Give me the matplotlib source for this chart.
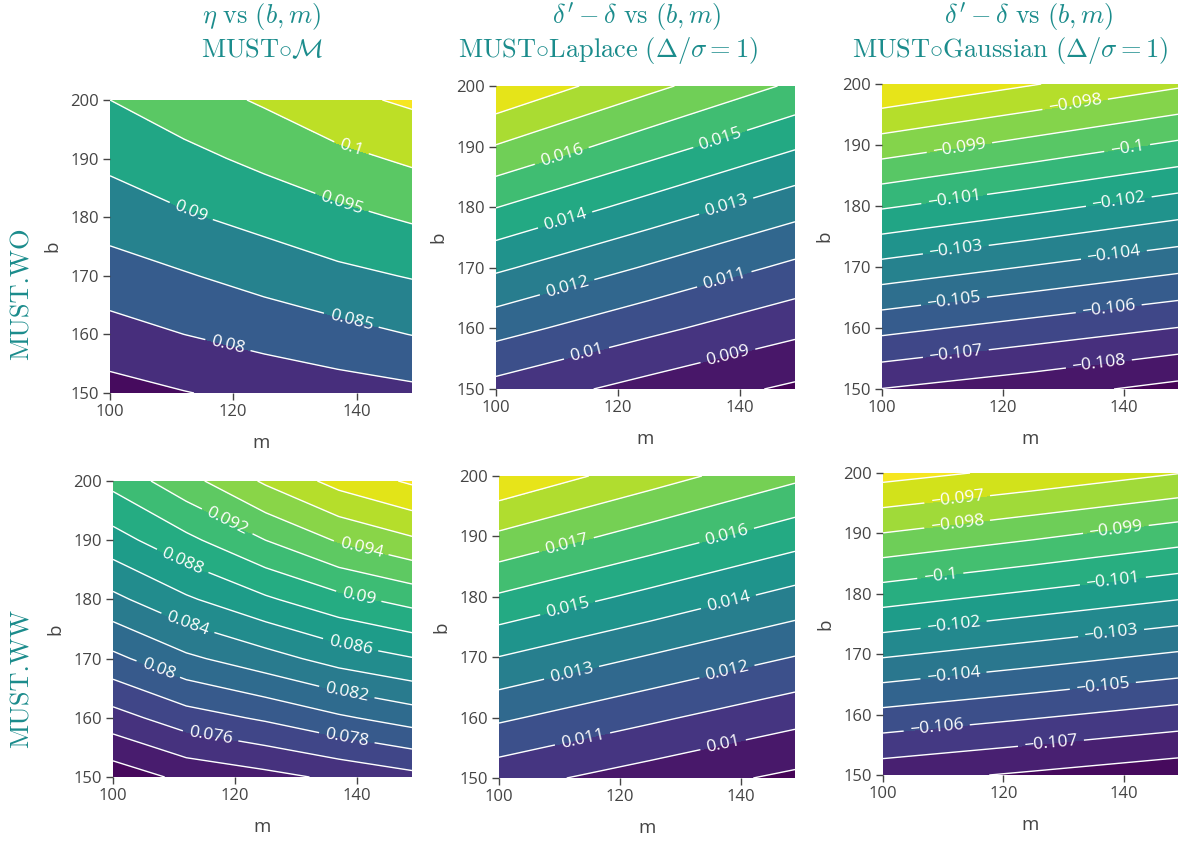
import numpy as np
import matplotlib
matplotlib.use("Agg")
import matplotlib.pyplot as plt

M_FINE = [100, 112, 125, 137, 149]
M_COARSE = [100, 125, 149]
B_VALUES = [150, 160, 170, 180, 190, 200]

# eta, MUST.WO  (rows: b = 150..200, columns: M_FINE)
ETA_WO = [
    [0.0732, 0.0748, 0.0764, 0.0777, 0.0788],
    [0.0781, 0.0800, 0.0818, 0.0834, 0.0851],
    [0.0828, 0.0846, 0.0868, 0.0888, 0.0903],
    [0.0871, 0.0894, 0.0916, 0.0937, 0.0956],
    [0.0912, 0.0936, 0.0962, 0.0987, 0.1008],
    [0.0950, 0.0978, 0.1006, 0.1038, 0.1058],
]

# delta' - delta, MUST.WO, Laplace  (columns: M_COARSE)
LAP_WO = [
    [0.00964, 0.00864, 0.00783],
    [0.01137, 0.01024, 0.00926],
    [0.01316, 0.01190, 0.01077],
    [0.01502, 0.01363, 0.01239],
    [0.01694, 0.01544, 0.01409],
    [0.01890, 0.01725, 0.01583],
]

# delta' - delta, MUST.WO, Gaussian
GAU_WO = [
    [-0.10802, -0.10862, -0.10930],
    [-0.10571, -0.10639, -0.10702],
    [-0.10331, -0.10406, -0.10476],
    [-0.10088, -0.10170, -0.10249],
    [-0.09844, -0.09933, -0.10018],
    [-0.09605, -0.09695, -0.09784],
]

# eta, MUST.WW
ETA_WW = [
    [0.0708, 0.0725, 0.0734, 0.0744, 0.0754],
    [0.0752, 0.0771, 0.0783, 0.0797, 0.0809],
    [0.0795, 0.0816, 0.0832, 0.0848, 0.0859],
    [0.0835, 0.0857, 0.0877, 0.0894, 0.0907],
    [0.0872, 0.0895, 0.0920, 0.0942, 0.0957],
    [0.0906, 0.0933, 0.0963, 0.0987, 0.1003],
]

# delta' - delta, MUST.WW, Laplace
LAP_WW = [
    [0.01039, 0.00952, 0.00879],
    [0.01216, 0.01118, 0.01029],
    [0.01398, 0.01292, 0.01197],
    [0.01588, 0.01473, 0.01366],
    [0.01782, 0.01658, 0.01544],
    [0.01982, 0.01844, 0.01721],
]

# delta' - delta, MUST.WW, Gaussian
GAU_WW = [
    [-0.10764, -0.10815, -0.10864],
    [-0.10528, -0.10584, -0.10638],
    [-0.10286, -0.10349, -0.10410],
    [-0.10046, -0.10114, -0.10177],
    [-0.09802, -0.09875, -0.09948],
    [-0.09563, -0.09627, -0.09697],
]

TITLE_LINE1 = [r"$\eta\ \mathrm{vs}\ (b, m)$",
               r"$\delta' - \delta\ \mathrm{vs}\ (b, m)$",
               r"$\delta' - \delta\ \mathrm{vs}\ (b, m)$"]
TITLE_LINE2 = [r"$\mathrm{MUST}{\circ}\mathcal{M}$",
               r"$\mathrm{MUST}{\circ}\mathrm{Laplace}\ (\Delta/\sigma = 1)$",
               r"$\mathrm{MUST}{\circ}\mathrm{Gaussian}\ (\Delta/\sigma = 1)$"]
ROW_LABELS = ["MUST.WO", "MUST.WW"]

# panels: data, m grid, contour step
PANELS = [
    (ETA_WO, M_FINE, 0.005),
    (LAP_WO, M_COARSE, 0.001),
    (GAU_WO, M_COARSE, 0.001),
    (ETA_WW, M_FINE, 0.002),
    (LAP_WW, M_COARSE, 0.001),
    (GAU_WW, M_COARSE, 0.001),
]

# layout (pixels: left, top, right, bottom)
W, H = 1199, 846
RECTS = [
    (110, 100, 412, 393), (496, 86, 795, 389), (882, 84, 1178, 389),
    (113, 481, 412, 777), (499, 476, 795, 778), (883, 473, 1178, 775),
]

# where the contour labels sit (m, b)
LABEL_POS = [
    [(139.1, 191.6), (137.4, 181.7), (112.8, 180.0), (139.1, 162.2), (119.0, 157.6)],
    [(110.7, 188.7), (136.7, 191.4), (111.3, 178.0), (137.8, 179.9), (111.6, 167.0),
     (137.5, 167.8), (114.8, 156.0), (138.0, 155.5)],
    [(132.0, 196.5), (112.8, 189.7), (140.6, 189.4), (111.9, 181.5), (139.2, 180.7),
     (112.2, 173.0), (138.4, 171.9), (111.9, 164.5), (137.5, 163.4), (112.2, 156.0),
     (135.9, 154.1)],
    [(118.3, 192.3), (140.6, 188.4), (111.0, 185.6), (140.1, 179.7), (112.1, 175.5),
     (138.8, 171.6), (107.3, 167.9), (138.2, 163.7), (115.9, 156.4), (138.2, 155.9)],
    [(111.1, 188.9), (137.6, 190.5), (111.3, 178.4), (137.9, 179.5), (111.9, 167.9),
     (137.6, 168.2), (113.8, 156.6), (137.1, 155.5)],
    [(112.3, 195.8), (112.3, 191.6), (138.7, 190.5), (109.5, 183.1), (138.2, 182.0),
     (111.7, 175.1), (137.9, 173.4), (111.7, 166.5), (136.5, 164.9), (108.9, 158.0),
     (127.9, 155.2)],
]

TEAL = "#1b8c8c"
GREY = "#444444"

plt.rcParams["font.family"] = ["Open Sans", "DejaVu Sans"]
plt.rcParams["mathtext.fontset"] = "cm"


def fmt(v):
    return f"{round(v, 6):g}".replace("-", "\u2212")


def rect_to_fig(r):
    x0, y0, x1, y1 = r
    return [x0 / W, 1 - y1 / H, (x1 - x0) / W, (y1 - y0) / H]


fig = plt.figure(figsize=(W / 100, H / 100), dpi=100)

for i, (data, m_vals, step) in enumerate(PANELS):
    ax = fig.add_axes(rect_to_fig(RECTS[i]))
    z = np.array(data)
    mm, bb = np.meshgrid(m_vals, B_VALUES)
    zmin, zmax = z.min(), z.max()

    k0 = int(np.ceil(zmin / step - 1e-9))
    k1 = int(np.floor(zmax / step + 1e-9))
    inner = [round(k * step, 6) for k in range(k0, k1 + 1)]
    inner = [v for v in inner if zmin < v < zmax]
    bounds = [zmin] + inner + [zmax]

    ax.contourf(mm, bb, z, levels=bounds, cmap="viridis",
                vmin=zmin, vmax=zmax)
    cs = ax.contour(mm, bb, z, levels=inner, colors="white",
                    linewidths=1.0, linestyles="solid")
    ax.clabel(cs, inline=True, inline_spacing=6, fmt=fmt, fontsize=12.5,
              colors="white", manual=LABEL_POS[i])

    ax.set_xlim(100, 149)
    ax.set_ylim(150, 200)
    ax.set_xticks([100, 120, 140])
    ax.set_yticks([150, 160, 170, 180, 190, 200])
    for s in ax.spines.values():
        s.set_visible(False)
    ax.tick_params(direction="out", length=5, width=1, color=GREY,
                   labelcolor=GREY, labelsize=12, pad=3)
    ax.set_xlabel("m", fontsize=13.5, color=GREY, labelpad=10)
    ax.set_ylabel("b", fontsize=13.5, color=GREY, labelpad=6)

# column titles
TITLE_X1 = [262, 637, 1029]
TITLE_X2 = [262, 608, 1010]
for j in range(3):
    fig.text(TITLE_X1[j] / W, 1 - 17 / H, TITLE_LINE1[j], color=TEAL,
             fontsize=19, ha="center", va="center")
    fig.text(TITLE_X2[j] / W, 1 - 51 / H, TITLE_LINE2[j], color=TEAL,
             fontsize=19, ha="center", va="center")

# row labels
ROW_Y = [294, 678]
for r in range(2):
    fig.text(22 / W, 1 - ROW_Y[r] / H, ROW_LABELS[r], color=TEAL,
             fontsize=19, fontfamily="cmr10", rotation=90,
             ha="center", va="center")

fig.savefig("out.png", dpi=100)
